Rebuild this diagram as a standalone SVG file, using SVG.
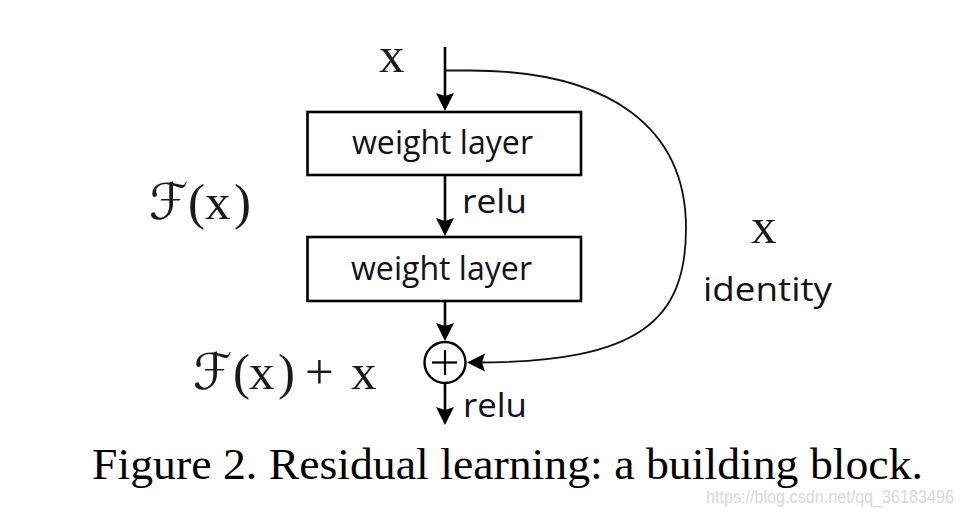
<svg xmlns="http://www.w3.org/2000/svg" width="968" height="515" viewBox="0 0 968 515">
<style>
.bg{fill:#ffffff}
.box{fill:#ffffff;stroke:#000000;stroke-width:2.6}
.line{fill:none;stroke:#000000;stroke-width:2.6}
.curve{fill:none;stroke:#111111;stroke-width:1.8}
.lbl{font-family:"Open Sans","Noto Sans","DejaVu Sans",sans-serif;font-size:33px;fill:#111122}
.math{font-family:"Liberation Serif","DejaVu Serif",serif;font-size:51px;fill:#1a1a1a}
.cal{font-family:"DejaVu Serif","DejaVu Sans",serif;font-size:50px;fill:#1a1a1a}
.cap{font-family:"Liberation Serif","Times New Roman",serif;font-size:45px;fill:#000000}
.wm{font-family:"Liberation Sans",Arial,sans-serif;font-size:18px;fill:#d9d9d9}
</style>
<defs>
<marker id="arr" markerUnits="userSpaceOnUse" markerWidth="20" markerHeight="20" refX="8" refY="9" orient="auto">
<path d="M0,0 L18,9 L0,18 L3,9 Z" fill="#000000"/>
</marker>
</defs>
<rect class="bg" x="0" y="0" width="968" height="515"/>

<g id="connectors">
<line class="line" x1="445" y1="47" x2="445" y2="101" marker-end="url(#arr)"/>
<line class="line" x1="445" y1="175" x2="445" y2="226" marker-end="url(#arr)"/>
<line class="line" x1="445" y1="301" x2="445" y2="331" marker-end="url(#arr)"/>
<line class="line" x1="445" y1="383" x2="445" y2="415" marker-end="url(#arr)"/>
<path class="curve" d="M445,70.5 L470,70.5 C610,70.5 686,128 686,228 C686,320 640,362.5 477,362.5" marker-end="url(#arr)"/>
</g>

<g id="input-x">
<text class="math" x="379" y="71.5">x</text>
</g>

<g id="weight-layer-1">
<rect class="box" x="307.5" y="112" width="273.5" height="63"/>
<text class="lbl" x="352" y="153.5" textLength="181" lengthAdjust="spacingAndGlyphs">weight layer</text>
</g>

<g id="relu-1">
<text class="lbl" x="462" y="213" textLength="65" lengthAdjust="spacingAndGlyphs">relu</text>
</g>

<g id="weight-layer-2">
<rect class="box" x="307.5" y="237" width="273.5" height="64"/>
<text class="lbl" x="351" y="279.5" textLength="181" lengthAdjust="spacingAndGlyphs">weight layer</text>
</g>

<g id="label-Fx">
<text y="219"><tspan class="cal" x="149">ℱ</tspan><tspan class="math" x="188">(</tspan><tspan class="math" x="205">x</tspan><tspan class="math" x="234">)</tspan></text>
</g>

<g id="sum">
<circle cx="445" cy="362.5" r="20.5" fill="#ffffff" stroke="#000000" stroke-width="2.4"/>
<line x1="432" y1="362.5" x2="457" y2="362.5" stroke="#000000" stroke-width="2.2"/>
<line x1="445" y1="350" x2="445" y2="375" stroke="#000000" stroke-width="2.2"/>
</g>

<g id="label-Fx-plus-x">
<text y="389"><tspan class="cal" x="193">ℱ</tspan><tspan class="math" x="233">(</tspan><tspan class="math" x="249">x</tspan><tspan class="math" x="278">)</tspan><tspan class="math" x="305">+</tspan><tspan class="math" x="351">x</tspan></text>
</g>

<g id="relu-2">
<text class="lbl" x="463" y="416.5" textLength="64" lengthAdjust="spacingAndGlyphs">relu</text>
</g>

<g id="identity">
<text class="math" x="751" y="243">x</text>
<text class="lbl" x="703" y="300.5" textLength="129" lengthAdjust="spacingAndGlyphs">identity</text>
</g>

<g id="caption">
<text class="cap" x="92" y="479" textLength="831" lengthAdjust="spacingAndGlyphs">Figure 2. Residual learning: a building block.</text>
<text class="wm" x="706" y="503" textLength="248" lengthAdjust="spacingAndGlyphs">https://blog.csdn.net/qq_36183496</text>
</g>
</svg>
